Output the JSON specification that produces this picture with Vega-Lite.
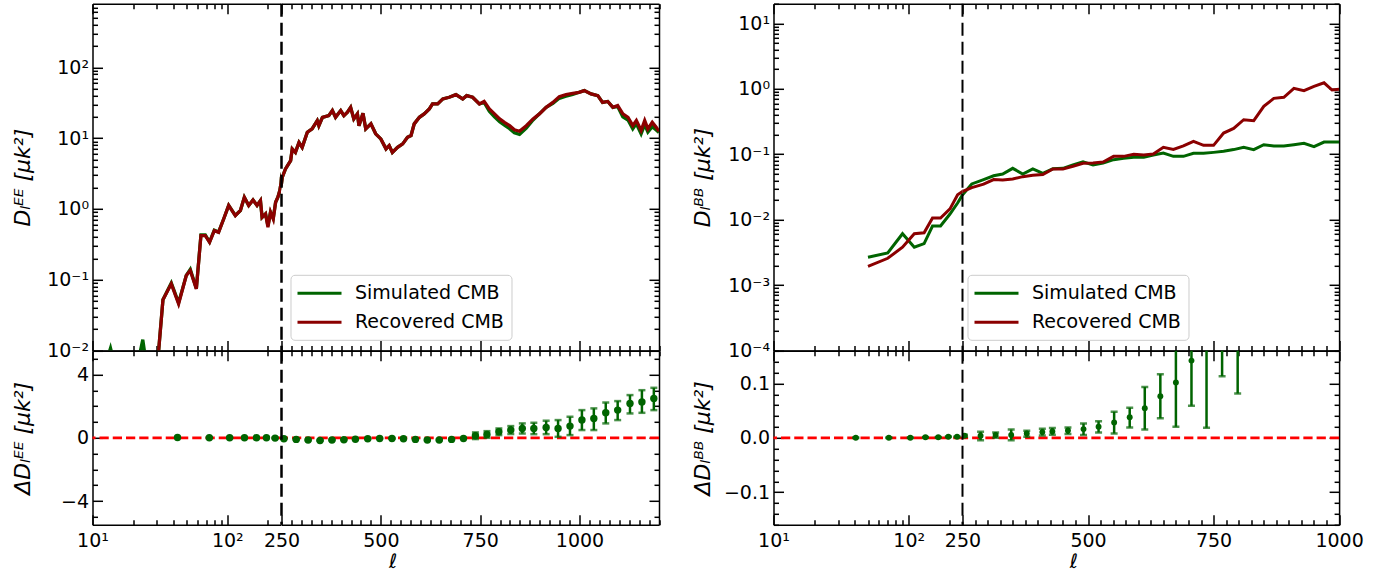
{
"$schema": "https://vega.github.io/schema/vega-lite/v6.json",
"background": "white",
"padding": {"left": 10.5, "top": 1.8, "right": 0, "bottom": 0},
"config": {
 "font": "DejaVu Sans",
 "view": {"stroke": null},
 "axis": {"domainColor": "black", "domainWidth": 1.5, "tickColor": "black", "tickWidth": 1.5, "labelFont": "DejaVu Sans", "labelFontSize": 19, "labelColor": "black", "titleFont": "DejaVu Sans", "titleFontSize": 20, "titleColor": "black", "titleFontWeight": "normal", "grid": false, "labelFlush": false, "labelOverlap": false, "labelBound": false, "labelLimit": 0},
 "legend": {"labelLimit": 0}
},
"datasets": {
 "ee": [
{"l":10,"sim":0.003,"rec":0.002},{"l":12,"sim":0.005,"rec":0.003},{"l":13.6,"sim":0.0108,"rec":0.004},{"l":15.5,"sim":0.004,"rec":0.005},{"l":18,"sim":0.002,"rec":0.002},{"l":21,"sim":0.005,"rec":0.004},{"l":23.6,"sim":0.0142,"rec":0.006},{"l":26,"sim":0.004,"rec":0.003},{"l":30,"sim":0.005,"rec":0.005},{"l":33.3,"sim":0.052,"rec":0.052},{"l":38.4,"sim":0.09,"rec":0.0875},{"l":43.5,"sim":0.047,"rec":0.0457},{"l":49.6,"sim":0.115,"rec":0.1146},{"l":53.1,"sim":0.14,"rec":0.135},{"l":58.9,"sim":0.075,"rec":0.074},{"l":63.7,"sim":0.43,"rec":0.42},{"l":68.6,"sim":0.43,"rec":0.42},{"l":73.8,"sim":0.34,"rec":0.338},{"l":80,"sim":0.5,"rec":0.494},{"l":86.1,"sim":0.47,"rec":0.468},{"l":93.9,"sim":0.72,"rec":0.72},{"l":102.3,"sim":1.12,"rec":1.12},{"l":114.6,"sim":0.81,"rec":0.805},{"l":125,"sim":0.95,"rec":0.95},{"l":133.7,"sim":1.46,"rec":1.46},{"l":144,"sim":1.12,"rec":1.12},{"l":155,"sim":1.34,"rec":1.34},{"l":166,"sim":1.12,"rec":1.12},{"l":176,"sim":1.31,"rec":1.31},{"l":181,"sim":0.76,"rec":0.76},{"l":192,"sim":0.85,"rec":0.85},{"l":200,"sim":0.58,"rec":0.55},{"l":209,"sim":0.9,"rec":0.9},{"l":219,"sim":0.74,"rec":0.72},{"l":228,"sim":1.24,"rec":1.24},{"l":237,"sim":1.46,"rec":1.46},{"l":245,"sim":1.82,"rec":1.82},{"l":250,"sim":2.3,"rec":2.3},{"l":252,"sim":2.8,"rec":2.8},{"l":260,"sim":3.68,"rec":3.68},{"l":273,"sim":4.82,"rec":4.82},{"l":277,"sim":7.04,"rec":7.04},{"l":285,"sim":6.3,"rec":6.3},{"l":294,"sim":8.7,"rec":8.7},{"l":302,"sim":7.4,"rec":7.4},{"l":315,"sim":12.1,"rec":12.1},{"l":327,"sim":13.5,"rec":13.5},{"l":340,"sim":17.7,"rec":17.7},{"l":344,"sim":15,"rec":15},{"l":353,"sim":19.7,"rec":19.7},{"l":369,"sim":20.8,"rec":20.8},{"l":378,"sim":24.5,"rec":24.5},{"l":386,"sim":19.7,"rec":19.7},{"l":399,"sim":24.5,"rec":24.5},{"l":407,"sim":20.8,"rec":20.8},{"l":416,"sim":23.2,"rec":23.2},{"l":424,"sim":27.2,"rec":27.2},{"l":432,"sim":18.7,"rec":18.7},{"l":441,"sim":22,"rec":22},{"l":445,"sim":15,"rec":15},{"l":455,"sim":22.4,"rec":22.4},{"l":462,"sim":13.5,"rec":13.5},{"l":475,"sim":15.9,"rec":15.9},{"l":487,"sim":11.5,"rec":11.5},{"l":500,"sim":9.75,"rec":9.75},{"l":513,"sim":7.05,"rec":7.05},{"l":521,"sim":7.85,"rec":7.85},{"l":529,"sim":6.3,"rec":6.3},{"l":542,"sim":7.43,"rec":7.43},{"l":555,"sim":8.3,"rec":8.3},{"l":567,"sim":10.3,"rec":10.3},{"l":576,"sim":10.9,"rec":10.9},{"l":584,"sim":15.9,"rec":15.9},{"l":597,"sim":19.7,"rec":19.7},{"l":609,"sim":22,"rec":22},{"l":622,"sim":25.9,"rec":25.9},{"l":630,"sim":30.4,"rec":30.4},{"l":643,"sim":30.4,"rec":30.4},{"l":656,"sim":35.8,"rec":35.8},{"l":672,"sim":37.8,"rec":37.8},{"l":689,"sim":41.1,"rec":41.1},{"l":706,"sim":35.8,"rec":35.8},{"l":716,"sim":39.8,"rec":39.8},{"l":731,"sim":37.8,"rec":37.8},{"l":748,"sim":30.4,"rec":30.4},{"l":760,"sim":32,"rec":33},{"l":773,"sim":24,"rec":25.9},{"l":786,"sim":20,"rec":22},{"l":799,"sim":17,"rec":18.7},{"l":811,"sim":15.2,"rec":16.7},{"l":824,"sim":13.6,"rec":15},{"l":836,"sim":11.9,"rec":13.1},{"l":849,"sim":11.3,"rec":12.5},{"l":866,"sim":13.8,"rec":15},{"l":883,"sim":18,"rec":18.7},{"l":899,"sim":22,"rec":22},{"l":916,"sim":27.2,"rec":27.2},{"l":933,"sim":31,"rec":32},{"l":949,"sim":36.5,"rec":38.6},{"l":966,"sim":39,"rec":41.1},{"l":983,"sim":41.5,"rec":43},{"l":999,"sim":44.4,"rec":44.4},{"l":1012,"sim":46.9,"rec":46.9},{"l":1029,"sim":42.1,"rec":42.1},{"l":1046,"sim":39.8,"rec":39.8},{"l":1058,"sim":32,"rec":32},{"l":1071,"sim":33,"rec":33},{"l":1084,"sim":27.2,"rec":27.2},{"l":1096,"sim":28,"rec":28.8},{"l":1109,"sim":20,"rec":22},{"l":1122,"sim":18,"rec":19.7},{"l":1134,"sim":13.5,"rec":15},{"l":1143,"sim":16,"rec":17.7},{"l":1155,"sim":11.5,"rec":12.8},{"l":1164,"sim":15.5,"rec":17.7},{"l":1172,"sim":12.2,"rec":13.5},{"l":1183,"sim":14.5,"rec":16.7},{"l":1193,"sim":13,"rec":14.2},{"l":1200,"sim":12,"rec":12.5}
 ],
 "bb": [
{"l":50,"sim":0.00266,"rec":0.00194},{"l":70,"sim":0.0031,"rec":0.00257},{"l":90,"sim":0.0061,"rec":0.0038},{"l":110,"sim":0.0038,"rec":0.0061},{"l":130,"sim":0.0043,"rec":0.0063},{"l":150,"sim":0.008,"rec":0.0106},{"l":172,"sim":0.008,"rec":0.0106},{"l":202,"sim":0.0122,"rec":0.0146},{"l":230,"sim":0.018,"rec":0.024},{"l":250,"sim":0.024,"rec":0.027},{"l":268.5,"sim":0.0352,"rec":0.031},{"l":292,"sim":0.041,"rec":0.035},{"l":312,"sim":0.047,"rec":0.041},{"l":330,"sim":0.05,"rec":0.0404},{"l":350,"sim":0.061,"rec":0.0419},{"l":370,"sim":0.05,"rec":0.0455},{"l":390,"sim":0.06,"rec":0.0477},{"l":410,"sim":0.051,"rec":0.0489},{"l":430,"sim":0.06,"rec":0.0596},{"l":450,"sim":0.061,"rec":0.0596},{"l":470,"sim":0.0686,"rec":0.0655},{"l":490,"sim":0.077,"rec":0.0728},{"l":510,"sim":0.0686,"rec":0.0736},{"l":530,"sim":0.0736,"rec":0.0762},{"l":551,"sim":0.0828,"rec":0.093},{"l":571,"sim":0.0868,"rec":0.093},{"l":591,"sim":0.0898,"rec":0.0998},{"l":611,"sim":0.0898,"rec":0.0975},{"l":630,"sim":0.0975,"rec":0.101},{"l":650,"sim":0.1047,"rec":0.128},{"l":670,"sim":0.093,"rec":0.119},{"l":690,"sim":0.093,"rec":0.134},{"l":710,"sim":0.1035,"rec":0.158},{"l":730,"sim":0.1035,"rec":0.137},{"l":750,"sim":0.107,"rec":0.137},{"l":770,"sim":0.111,"rec":0.211},{"l":790,"sim":0.118,"rec":0.249},{"l":810,"sim":0.128,"rec":0.338},{"l":830,"sim":0.118,"rec":0.326},{"l":850,"sim":0.14,"rec":0.541},{"l":870,"sim":0.134,"rec":0.716},{"l":890,"sim":0.134,"rec":0.742},{"l":910,"sim":0.14,"rec":1.018},{"l":930,"sim":0.147,"rec":0.937},{"l":950,"sim":0.131,"rec":1.09},{"l":970,"sim":0.154,"rec":1.24},{"l":986,"sim":0.154,"rec":0.96},{"l":1000,"sim":0.154,"rec":0.99}
 ],
 "eer": [
{"l":42.7,"r":0.02,"lo":0.0,"hi":0.04},{"l":73.5,"r":0.0,"lo":-0.02,"hi":0.02},{"l":104,"r":0.0,"lo":-0.02,"hi":0.02},{"l":134,"r":0.0,"lo":-0.02,"hi":0.02},{"l":164.5,"r":0.0,"lo":-0.02,"hi":0.02},{"l":195,"r":0.0,"lo":-0.02,"hi":0.02},{"l":226,"r":-0.02,"lo":-0.04,"hi":0.0},{"l":256,"r":-0.06,"lo":-0.08,"hi":-0.04},{"l":287,"r":-0.1,"lo":-0.12,"hi":-0.08},{"l":317,"r":-0.14,"lo":-0.16,"hi":-0.12},{"l":347,"r":-0.17,"lo":-0.19,"hi":-0.15},{"l":377,"r":-0.14,"lo":-0.16,"hi":-0.12},{"l":407,"r":-0.12,"lo":-0.14,"hi":-0.1},{"l":436,"r":-0.09,"lo":-0.11,"hi":-0.07},{"l":467,"r":-0.06,"lo":-0.08,"hi":-0.04},{"l":497,"r":-0.04,"lo":-0.06,"hi":-0.02},{"l":528,"r":-0.04,"lo":-0.06,"hi":-0.02},{"l":557,"r":-0.06,"lo":-0.08,"hi":-0.04},{"l":587,"r":-0.1,"lo":-0.12,"hi":-0.08},{"l":617,"r":-0.14,"lo":-0.16,"hi":-0.12},{"l":647,"r":-0.14,"lo":-0.16,"hi":-0.12},{"l":678,"r":-0.1,"lo":-0.12,"hi":-0.08},{"l":708,"r":-0.04,"lo":-0.06,"hi":-0.02},{"l":738,"r":0.13,"lo":-0.08,"hi":0.34},{"l":767,"r":0.21,"lo":0.0,"hi":0.42},{"l":797,"r":0.38,"lo":0.17,"hi":0.59},{"l":827,"r":0.49,"lo":0.24,"hi":0.74},{"l":856,"r":0.59,"lo":0.27,"hi":0.91},{"l":885,"r":0.59,"lo":0.23,"hi":0.95},{"l":916,"r":0.65,"lo":0.23,"hi":1.08},{"l":946,"r":0.59,"lo":0.06,"hi":1.12},{"l":976,"r":0.74,"lo":0.17,"hi":1.33},{"l":1006,"r":1.12,"lo":0.49,"hi":1.75},{"l":1036,"r":1.22,"lo":0.49,"hi":1.86},{"l":1066,"r":1.58,"lo":0.91,"hi":2.23},{"l":1096,"r":1.75,"lo":1.12,"hi":2.32},{"l":1127,"r":2.17,"lo":1.54,"hi":2.7},{"l":1157,"r":2.27,"lo":1.58,"hi":3.01},{"l":1187,"r":2.49,"lo":1.75,"hi":3.16}
 ],
 "bbr": [
{"l":40.6,"r":0.0,"lo":-0.0005,"hi":0.0005},{"l":71.3,"r":0.0,"lo":-0.0005,"hi":0.0005},{"l":102.8,"r":0.0,"lo":-0.0005,"hi":0.0005},{"l":133,"r":0.001,"lo":0.0005,"hi":0.0015},{"l":165.5,"r":0.001,"lo":0.0005,"hi":0.0015},{"l":196.5,"r":0.002,"lo":0.0015,"hi":0.0025},{"l":228,"r":0.002,"lo":0.0015,"hi":0.0025},{"l":254,"r":0.0037,"lo":0.002,"hi":0.0055},{"l":286,"r":0.0037,"lo":-0.0043,"hi":0.011},{"l":316,"r":0.005,"lo":0.0,"hi":0.0098},{"l":347,"r":0.005,"lo":-0.0043,"hi":0.0153},{"l":378,"r":0.008,"lo":0.0019,"hi":0.0129},{"l":409,"r":0.0105,"lo":0.0043,"hi":0.0166},{"l":429,"r":0.0117,"lo":0.0055,"hi":0.0178},{"l":460,"r":0.0135,"lo":0.0068,"hi":0.019},{"l":491,"r":0.016,"lo":0.005,"hi":0.0264},{"l":521,"r":0.0202,"lo":0.0098,"hi":0.0306},{"l":552,"r":0.0282,"lo":0.008,"hi":0.0478},{"l":583,"r":0.038,"lo":0.019,"hi":0.0551},{"l":613,"r":0.0545,"lo":0.0153,"hi":0.0936},{"l":644,"r":0.0765,"lo":0.036,"hi":0.117},{"l":675,"r":0.1016,"lo":0.0202,"hi":0.183},{"l":706,"r":0.142,"lo":0.0588,"hi":0.225},{"l":736,"r":0.2,"lo":0.0184,"hi":0.38},{"l":767,"r":0.25,"lo":0.113,"hi":0.39},{"l":798,"r":0.22,"lo":0.0814,"hi":0.36}
 ]
},
"columns": 5,
"spacing": 0,
"bounds": "flush",
"align": "each",
"resolve": {"scale": {"color": "independent"}, "legend": {"color": "independent"}},
"concat": [
 {
  "width": 188.5, "height": 346.7,
  "layer": [
   {"data": {"name": "ee"}, "transform": [{"fold": ["sim", "rec"], "as": ["s", "v"]}],
    "mark": {"type": "line", "clip": true, "strokeWidth": 3.3},
    "encoding": {
     "x": {"field": "l", "type": "quantitative", "scale": {"type": "log", "domain": [10, 250], "nice": false},
       "axis": {"orient": "bottom", "values": [10,20,30,40,50,60,70,80,90,100,200], "tickSize": {"condition": {"test": "datum.value == 10 || datum.value == 100", "value": -10}, "value": -5}, "labels": false, "title": null}},
     "y": {"field": "v", "type": "quantitative", "scale": {"type": "log", "domain": [0.01, 790], "nice": false},
       "axis": {"orient": "left", "values": [0.01,0.02,0.03,0.04,0.05,0.06,0.07,0.08,0.09,0.1,0.2,0.3,0.4,0.5,0.6,0.7,0.8,0.9,1,2,3,4,5,6,7,8,9,10,20,30,40,50,60,70,80,90,100,200,300,400,500,600,700],
         "tickSize": {"condition": {"test": "abs(log(datum.value)/LN10 - round(log(datum.value)/LN10)) < 0.001", "value": -10}, "value": -5},
         "labelFontSize": {"condition": {"test": "abs(log(datum.value)/LN10 - round(log(datum.value)/LN10)) < 0.001", "value": 19}, "value": 0},
         "labelExpr": "datum.value == 100 ? '10²' : datum.value == 10 ? '10¹' : datum.value == 1 ? '10⁰' : datum.value == 0.1 ? '10⁻¹' : datum.value == 0.01 ? '10⁻²' : ''",
         "labelPadding": 14, "title": "Dₗᴱᴱ [μk²]", "titleX": -70, "titleBaseline": "middle", "titleFontStyle": "italic", "titleFontSize": 22}},
     "color": {"field": "s", "type": "nominal", "scale": {"domain": ["sim", "rec"], "range": ["#006400", "#8b0000"]}, "legend": null}
    }},
   {"data": {"values": [{}]}, "mark": {"type": "rule", "opacity": 0},
    "encoding": {"x": {"datum": 10, "type": "quantitative",
      "axis": {"orient": "top", "values": [10,20,30,40,50,60,70,80,90,100,200], "tickSize": {"condition": {"test": "datum.value == 10 || datum.value == 100", "value": -10}, "value": -5}, "labels": false, "title": null}}}}
  ],
  "resolve": {"axis": {"x": "independent"}}
 },
 {
  "width": 377.5, "height": 346.7,
  "layer": [
   {"data": {"name": "ee"}, "transform": [{"fold": ["sim", "rec"], "as": ["s", "v"]}],
    "mark": {"type": "line", "clip": true, "strokeWidth": 3.3},
    "encoding": {
     "x": {"field": "l", "type": "quantitative", "scale": {"domain": [250, 1200], "nice": false, "zero": false},
       "axis": {"orient": "bottom", "values": [250,275,300,325,350,375,400,425,450,475,500,525,550,575,600,625,650,675,700,725,750,775,800,825,850,875,900,925,950,975,1000,1025,1050,1075,1100,1125,1150,1175,1200], "tickSize": {"condition": {"test": "datum.value % 250 == 0", "value": -10}, "value": -5}, "labels": false, "title": null}},
     "y": {"field": "v", "type": "quantitative", "scale": {"type": "log", "domain": [0.01, 790], "nice": false},
       "axis": {"orient": "right", "values": [0.01,0.02,0.03,0.04,0.05,0.06,0.07,0.08,0.09,0.1,0.2,0.3,0.4,0.5,0.6,0.7,0.8,0.9,1,2,3,4,5,6,7,8,9,10,20,30,40,50,60,70,80,90,100,200,300,400,500,600,700],
         "tickSize": {"condition": {"test": "abs(log(datum.value)/LN10 - round(log(datum.value)/LN10)) < 0.001", "value": -10}, "value": -5},
         "labels": false, "title": null}},
     "color": {"field": "s", "type": "nominal", "scale": {"domain": ["sim", "rec"], "range": ["#006400", "#8b0000"]},
       "legend": {"orient": "none", "legendX": 9, "legendY": 271, "title": null, "symbolType": "M-2.2,0H2.2", "symbolSize": 400, "symbolStrokeWidth": 3, "symbolOffset": 10.5, "labelFontSize": 19, "labelFont": "DejaVu Sans", "labelColor": "black", "fillColor": "rgba(255,255,255,0.8)", "strokeColor": "#cccccc", "cornerRadius": 4, "padding": 7, "labelOffset": 24, "rowPadding": 7, "labelExpr": "datum.label == 'sim' ? 'Simulated CMB\u00a0\u00a0' : 'Recovered CMB\u00a0\u00a0'"}}
    }},
   {"data": {"values": [{}]}, "mark": {"type": "rule", "color": "black", "strokeWidth": 2.5, "strokeDash": [13, 6]},
    "encoding": {"x": {"datum": 250, "type": "quantitative",
      "axis": {"orient": "top", "values": [250,275,300,325,350,375,400,425,450,475,500,525,550,575,600,625,650,675,700,725,750,775,800,825,850,875,900,925,950,975,1000,1025,1050,1075,1100,1125,1150,1175,1200], "tickSize": {"condition": {"test": "datum.value % 250 == 0", "value": -10}, "value": -5}, "labels": false, "title": null}}}}
  ],
  "resolve": {"axis": {"x": "independent"}}
 },
 {"width": 113.2, "height": 346.7, "data": {"values": [{}]}, "mark": {"type": "point", "opacity": 0}},
 {
  "width": 189, "height": 346.7,
  "layer": [
   {"data": {"name": "bb"}, "transform": [{"fold": ["sim", "rec"], "as": ["s", "v"]}],
    "mark": {"type": "line", "clip": true, "strokeWidth": 3},
    "encoding": {
     "x": {"field": "l", "type": "quantitative", "scale": {"type": "log", "domain": [10, 250], "nice": false},
       "axis": {"orient": "bottom", "values": [10,20,30,40,50,60,70,80,90,100,200], "tickSize": {"condition": {"test": "datum.value == 10 || datum.value == 100", "value": -10}, "value": -5}, "labels": false, "title": null}},
     "y": {"field": "v", "type": "quantitative", "scale": {"type": "log", "domain": [0.0001, 20], "nice": false},
       "axis": {"orient": "left", "values": [0.0001,0.0002,0.0003,0.0004,0.0005,0.0006,0.0007,0.0008,0.0009,0.001,0.002,0.003,0.004,0.005,0.006,0.007,0.008,0.009,0.01,0.02,0.03,0.04,0.05,0.06,0.07,0.08,0.09,0.1,0.2,0.3,0.4,0.5,0.6,0.7,0.8,0.9,1,2,3,4,5,6,7,8,9,10,20],
         "tickSize": {"condition": {"test": "abs(log(datum.value)/LN10 - round(log(datum.value)/LN10)) < 0.001", "value": -10}, "value": -5},
         "labelFontSize": {"condition": {"test": "abs(log(datum.value)/LN10 - round(log(datum.value)/LN10)) < 0.001", "value": 19}, "value": 0},
         "labelExpr": "datum.value == 10 ? '10¹' : datum.value == 1 ? '10⁰' : datum.value == 0.1 ? '10⁻¹' : datum.value == 0.01 ? '10⁻²' : datum.value == 0.001 ? '10⁻³' : datum.value == 0.0001 ? '10⁻⁴' : ''",
         "labelPadding": 14, "title": "Dₗᴮᴮ [μk²]", "titleX": -71, "titleBaseline": "middle", "titleFontStyle": "italic", "titleFontSize": 22}},
     "color": {"field": "s", "type": "nominal", "scale": {"domain": ["sim", "rec"], "range": ["#006400", "#8b0000"]}, "legend": null}
    }},
   {"data": {"values": [{}]}, "mark": {"type": "rule", "opacity": 0},
    "encoding": {"x": {"datum": 10, "type": "quantitative",
      "axis": {"orient": "top", "values": [10,20,30,40,50,60,70,80,90,100,200], "tickSize": {"condition": {"test": "datum.value == 10 || datum.value == 100", "value": -10}, "value": -5}, "labels": false, "title": null}}}}
  ],
  "resolve": {"axis": {"x": "independent"}}
 },
 {
  "width": 376.6, "height": 346.7,
  "layer": [
   {"data": {"name": "bb"}, "transform": [{"fold": ["sim", "rec"], "as": ["s", "v"]}],
    "mark": {"type": "line", "clip": true, "strokeWidth": 3},
    "encoding": {
     "x": {"field": "l", "type": "quantitative", "scale": {"domain": [250, 1000], "nice": false, "zero": false},
       "axis": {"orient": "bottom", "values": [250,275,300,325,350,375,400,425,450,475,500,525,550,575,600,625,650,675,700,725,750,775,800,825,850,875,900,925,950,975,1000], "tickSize": {"condition": {"test": "datum.value % 250 == 0", "value": -10}, "value": -5}, "labels": false, "title": null}},
     "y": {"field": "v", "type": "quantitative", "scale": {"type": "log", "domain": [0.0001, 20], "nice": false},
       "axis": {"orient": "right", "values": [0.0001,0.0002,0.0003,0.0004,0.0005,0.0006,0.0007,0.0008,0.0009,0.001,0.002,0.003,0.004,0.005,0.006,0.007,0.008,0.009,0.01,0.02,0.03,0.04,0.05,0.06,0.07,0.08,0.09,0.1,0.2,0.3,0.4,0.5,0.6,0.7,0.8,0.9,1,2,3,4,5,6,7,8,9,10,20],
         "tickSize": {"condition": {"test": "abs(log(datum.value)/LN10 - round(log(datum.value)/LN10)) < 0.001", "value": -10}, "value": -5},
         "labels": false, "title": null}},
     "color": {"field": "s", "type": "nominal", "scale": {"domain": ["sim", "rec"], "range": ["#006400", "#8b0000"]},
       "legend": {"orient": "none", "legendX": 5, "legendY": 271, "title": null, "symbolType": "M-2.2,0H2.2", "symbolSize": 400, "symbolStrokeWidth": 3, "symbolOffset": 10.5, "labelFontSize": 19, "labelFont": "DejaVu Sans", "labelColor": "black", "fillColor": "rgba(255,255,255,0.8)", "strokeColor": "#cccccc", "cornerRadius": 4, "padding": 7, "labelOffset": 24, "rowPadding": 7, "labelExpr": "datum.label == 'sim' ? 'Simulated CMB\u00a0\u00a0' : 'Recovered CMB\u00a0\u00a0'"}}
    }},
   {"data": {"values": [{}]}, "mark": {"type": "rule", "color": "black", "strokeWidth": 2, "strokeDash": [13, 6]},
    "encoding": {"x": {"datum": 250, "type": "quantitative",
      "axis": {"orient": "top", "values": [250,275,300,325,350,375,400,425,450,475,500,525,550,575,600,625,650,675,700,725,750,775,800,825,850,875,900,925,950,975,1000], "tickSize": {"condition": {"test": "datum.value % 250 == 0", "value": -10}, "value": -5}, "labels": false, "title": null}}}}
  ],
  "resolve": {"axis": {"x": "independent"}}
 },
 {
  "width": 188.5, "height": 174,
  "layer": [
   {"data": {"values": [{}]}, "mark": {"type": "rule", "color": "red", "strokeWidth": 2.7, "strokeDash": [9.25, 4]},
    "encoding": {"y": {"datum": 0, "type": "quantitative", "axis": null}}},
   {"data": {"name": "eer"}, "transform": [{"filter": "datum.l < 250"}], "mark": {"type": "rule", "color": "#006400", "strokeWidth": 2.5},
    "encoding": {"x": {"field": "l", "type": "quantitative", "axis": null}, "y": {"field": "lo", "type": "quantitative", "axis": null}, "y2": {"field": "hi"}}},
   {"data": {"name": "eer"}, "transform": [{"filter": "datum.l < 250"}], "mark": {"type": "tick", "orient": "horizontal", "size": 7, "thickness": 2.5, "color": "#006400"},
    "encoding": {"x": {"field": "l", "type": "quantitative", "axis": null}, "y": {"field": "lo", "type": "quantitative", "axis": null}}},
   {"data": {"name": "eer"}, "transform": [{"filter": "datum.l < 250"}], "mark": {"type": "tick", "orient": "horizontal", "size": 7, "thickness": 2.5, "color": "#006400"},
    "encoding": {"x": {"field": "l", "type": "quantitative", "axis": null}, "y": {"field": "hi", "type": "quantitative", "axis": null}}},
   {"data": {"name": "eer"}, "transform": [{"filter": "datum.l < 250"}], "mark": {"type": "circle", "size": 55, "color": "#006400", "opacity": 1},
    "encoding": {
     "x": {"field": "l", "type": "quantitative", "scale": {"type": "log", "domain": [10, 250], "nice": false},
       "axis": {"orient": "bottom", "values": [10,20,30,40,50,60,70,80,90,100,200], "tickSize": {"condition": {"test": "datum.value == 10 || datum.value == 100", "value": -10}, "value": -5}, "labelExpr": "datum.value == 10 ? '10¹' : datum.value == 100 ? '10²' : ''", "labelPadding": 17, "title": null}},
     "y": {"field": "r", "type": "quantitative", "scale": {"domain": [-5.5, 5.5], "nice": false, "zero": false},
       "axis": {"orient": "left", "values": [-5,-4,-3,-2,-1,0,1,2,3,4,5], "tickSize": {"condition": {"test": "datum.value % 4 == 0", "value": -10}, "value": -5},
         "labelFontSize": {"condition": {"test": "datum.value % 4 == 0", "value": 19}, "value": 0},
         "labelExpr": "datum.value == 4 ? '4' : datum.value == 0 ? '0' : datum.value == -4 ? '−4' : ''", "labelPadding": 14,
         "title": "ΔDₗᴱᴱ [μk²]", "titleX": -70, "titleBaseline": "middle", "titleFontStyle": "italic", "titleFontSize": 22}}
    }},
   {"data": {"values": [{}]}, "mark": {"type": "rule", "opacity": 0},
    "encoding": {"x": {"datum": 10, "type": "quantitative",
      "axis": {"orient": "top", "values": [10,20,30,40,50,60,70,80,90,100,200], "tickSize": {"condition": {"test": "datum.value == 10 || datum.value == 100", "value": -10}, "value": -5}, "labels": false, "title": null}}}}
  ],
  "resolve": {"axis": {"x": "independent", "y": "independent"}}
 },
 {
  "width": 377.5, "height": 174,
  "layer": [
   {"data": {"values": [{}]}, "mark": {"type": "rule", "color": "red", "strokeWidth": 2.7, "strokeDash": [9.25, 4]},
    "encoding": {"y": {"datum": 0, "type": "quantitative", "axis": null}}},
   {"data": {"name": "eer"}, "transform": [{"filter": "datum.l >= 250"}], "mark": {"type": "rule", "color": "#006400", "strokeWidth": 2.5},
    "encoding": {"x": {"field": "l", "type": "quantitative", "axis": null}, "y": {"field": "lo", "type": "quantitative", "axis": null}, "y2": {"field": "hi"}}},
   {"data": {"name": "eer"}, "transform": [{"filter": "datum.l >= 250"}], "mark": {"type": "tick", "orient": "horizontal", "size": 7, "thickness": 2.5, "color": "#006400"},
    "encoding": {"x": {"field": "l", "type": "quantitative", "axis": null}, "y": {"field": "lo", "type": "quantitative", "axis": null}}},
   {"data": {"name": "eer"}, "transform": [{"filter": "datum.l >= 250"}], "mark": {"type": "tick", "orient": "horizontal", "size": 7, "thickness": 2.5, "color": "#006400"},
    "encoding": {"x": {"field": "l", "type": "quantitative", "axis": null}, "y": {"field": "hi", "type": "quantitative", "axis": null}}},
   {"data": {"name": "eer"}, "transform": [{"filter": "datum.l >= 250"}], "mark": {"type": "circle", "size": 55, "color": "#006400", "opacity": 1},
    "encoding": {
     "x": {"field": "l", "type": "quantitative", "scale": {"domain": [250, 1200], "nice": false, "zero": false},
       "axis": {"orient": "bottom", "values": [250,275,300,325,350,375,400,425,450,475,500,525,550,575,600,625,650,675,700,725,750,775,800,825,850,875,900,925,950,975,1000,1025,1050,1075,1100,1125,1150,1175,1200], "tickSize": {"condition": {"test": "datum.value % 250 == 0", "value": -10}, "value": -5}, "labelExpr": "datum.value % 250 == 0 ? '' + datum.value : ''", "labelPadding": 17,
         "title": "ℓ", "titleFontStyle": "italic", "titleX": 111, "titleY": 37, "titleBaseline": "middle", "titleAlign": "center"}},
     "y": {"field": "r", "type": "quantitative", "scale": {"domain": [-5.5, 5.5], "nice": false, "zero": false},
       "axis": {"orient": "right", "values": [-5,-4,-3,-2,-1,0,1,2,3,4,5], "tickSize": {"condition": {"test": "datum.value % 4 == 0", "value": -10}, "value": -5}, "labels": false, "title": null}}
    }},
   {"data": {"values": [{}]}, "mark": {"type": "rule", "color": "black", "strokeWidth": 2.5, "strokeDash": [13, 6]},
    "encoding": {"x": {"datum": 250, "type": "quantitative",
      "axis": {"orient": "top", "values": [250,275,300,325,350,375,400,425,450,475,500,525,550,575,600,625,650,675,700,725,750,775,800,825,850,875,900,925,950,975,1000,1025,1050,1075,1100,1125,1150,1175,1200], "tickSize": {"condition": {"test": "datum.value % 250 == 0", "value": -10}, "value": -5}, "labels": false, "title": null}}}}
  ],
  "resolve": {"axis": {"x": "independent", "y": "independent"}}
 },
 {"width": 113.2, "height": 174, "data": {"values": [{}]}, "mark": {"type": "point", "opacity": 0}},
 {
  "width": 189, "height": 174,
  "layer": [
   {"data": {"values": [{}]}, "mark": {"type": "rule", "color": "red", "strokeWidth": 2.7, "strokeDash": [9.25, 4]},
    "encoding": {"y": {"datum": 0, "type": "quantitative", "axis": null}}},
   {"data": {"name": "bbr"}, "transform": [{"filter": "datum.l < 250"}], "mark": {"type": "rule", "color": "#006400", "strokeWidth": 2.5, "clip": true},
    "encoding": {"x": {"field": "l", "type": "quantitative", "axis": null}, "y": {"field": "lo", "type": "quantitative", "axis": null}, "y2": {"field": "hi"}}},
   {"data": {"name": "bbr"}, "transform": [{"filter": "datum.l < 250"}], "mark": {"type": "tick", "orient": "horizontal", "size": 7, "thickness": 2.5, "color": "#006400", "clip": true},
    "encoding": {"x": {"field": "l", "type": "quantitative", "axis": null}, "y": {"field": "lo", "type": "quantitative", "axis": null}}},
   {"data": {"name": "bbr"}, "transform": [{"filter": "datum.l < 250"}], "mark": {"type": "tick", "orient": "horizontal", "size": 7, "thickness": 2.5, "color": "#006400", "clip": true},
    "encoding": {"x": {"field": "l", "type": "quantitative", "axis": null}, "y": {"field": "hi", "type": "quantitative", "axis": null}}},
   {"data": {"name": "bbr"}, "transform": [{"filter": "datum.l < 250"}], "mark": {"type": "circle", "size": 35, "color": "#006400", "opacity": 1, "clip": true},
    "encoding": {
     "x": {"field": "l", "type": "quantitative", "scale": {"type": "log", "domain": [10, 250], "nice": false},
       "axis": {"orient": "bottom", "values": [10,20,30,40,50,60,70,80,90,100,200], "tickSize": {"condition": {"test": "datum.value == 10 || datum.value == 100", "value": -10}, "value": -5}, "labelExpr": "datum.value == 10 ? '10¹' : datum.value == 100 ? '10²' : ''", "labelPadding": 17, "title": null}},
     "y": {"field": "r", "type": "quantitative", "scale": {"domain": [-0.16, 0.16], "nice": false, "zero": false},
       "axis": {"orient": "left", "values": [-0.16,-0.14,-0.12,-0.1,-0.08,-0.06,-0.04,-0.02,0,0.02,0.04,0.06,0.08,0.1,0.12,0.14,0.16], "tickSize": {"condition": {"test": "abs(datum.value) < 0.001 || abs(abs(datum.value) - 0.1) < 0.001", "value": -10}, "value": -5},
         "labelFontSize": {"condition": {"test": "abs(datum.value) < 0.001 || abs(abs(datum.value) - 0.1) < 0.001", "value": 19}, "value": 0},
         "labelExpr": "abs(datum.value) < 0.001 ? '0.0' : abs(datum.value - 0.1) < 0.001 ? '0.1' : abs(datum.value + 0.1) < 0.001 ? '−0.1' : ''", "labelPadding": 14,
         "title": "ΔDₗᴮᴮ [μk²]", "titleX": -71, "titleBaseline": "middle", "titleFontStyle": "italic", "titleFontSize": 22}}
    }},
   {"data": {"values": [{}]}, "mark": {"type": "rule", "opacity": 0},
    "encoding": {"x": {"datum": 10, "type": "quantitative",
      "axis": {"orient": "top", "values": [10,20,30,40,50,60,70,80,90,100,200], "tickSize": {"condition": {"test": "datum.value == 10 || datum.value == 100", "value": -10}, "value": -5}, "labels": false, "title": null}}}}
  ],
  "resolve": {"axis": {"x": "independent", "y": "independent"}}
 },
 {
  "width": 376.6, "height": 174,
  "layer": [
   {"data": {"values": [{}]}, "mark": {"type": "rule", "color": "red", "strokeWidth": 2.7, "strokeDash": [9.25, 4]},
    "encoding": {"y": {"datum": 0, "type": "quantitative", "axis": null}}},
   {"data": {"name": "bbr"}, "transform": [{"filter": "datum.l >= 250"}], "mark": {"type": "rule", "color": "#006400", "strokeWidth": 2.5, "clip": true},
    "encoding": {"x": {"field": "l", "type": "quantitative", "axis": null}, "y": {"field": "lo", "type": "quantitative", "axis": null}, "y2": {"field": "hi"}}},
   {"data": {"name": "bbr"}, "transform": [{"filter": "datum.l >= 250"}], "mark": {"type": "tick", "orient": "horizontal", "size": 7, "thickness": 2.5, "color": "#006400", "clip": true},
    "encoding": {"x": {"field": "l", "type": "quantitative", "axis": null}, "y": {"field": "lo", "type": "quantitative", "axis": null}}},
   {"data": {"name": "bbr"}, "transform": [{"filter": "datum.l >= 250"}], "mark": {"type": "tick", "orient": "horizontal", "size": 7, "thickness": 2.5, "color": "#006400", "clip": true},
    "encoding": {"x": {"field": "l", "type": "quantitative", "axis": null}, "y": {"field": "hi", "type": "quantitative", "axis": null}}},
   {"data": {"name": "bbr"}, "transform": [{"filter": "datum.l >= 250"}], "mark": {"type": "circle", "size": 35, "color": "#006400", "opacity": 1, "clip": true},
    "encoding": {
     "x": {"field": "l", "type": "quantitative", "scale": {"domain": [250, 1000], "nice": false, "zero": false},
       "axis": {"orient": "bottom", "values": [250,275,300,325,350,375,400,425,450,475,500,525,550,575,600,625,650,675,700,725,750,775,800,825,850,875,900,925,950,975,1000], "tickSize": {"condition": {"test": "datum.value % 250 == 0", "value": -10}, "value": -5}, "labelExpr": "datum.value % 250 == 0 ? '' + datum.value : ''", "labelPadding": 17,
         "title": "ℓ", "titleFontStyle": "italic", "titleX": 111, "titleY": 37, "titleBaseline": "middle", "titleAlign": "center"}},
     "y": {"field": "r", "type": "quantitative", "scale": {"domain": [-0.16, 0.16], "nice": false, "zero": false},
       "axis": {"orient": "right", "values": [-0.16,-0.14,-0.12,-0.1,-0.08,-0.06,-0.04,-0.02,0,0.02,0.04,0.06,0.08,0.1,0.12,0.14,0.16], "tickSize": {"condition": {"test": "abs(datum.value) < 0.001 || abs(abs(datum.value) - 0.1) < 0.001", "value": -10}, "value": -5}, "labels": false, "title": null}}
    }},
   {"data": {"values": [{}]}, "mark": {"type": "rule", "color": "black", "strokeWidth": 2, "strokeDash": [13, 6]},
    "encoding": {"x": {"datum": 250, "type": "quantitative",
      "axis": {"orient": "top", "values": [250,275,300,325,350,375,400,425,450,475,500,525,550,575,600,625,650,675,700,725,750,775,800,825,850,875,900,925,950,975,1000], "tickSize": {"condition": {"test": "datum.value % 250 == 0", "value": -10}, "value": -5}, "labels": false, "title": null}}}}
  ],
  "resolve": {"axis": {"x": "independent", "y": "independent"}}
 }
]
}
